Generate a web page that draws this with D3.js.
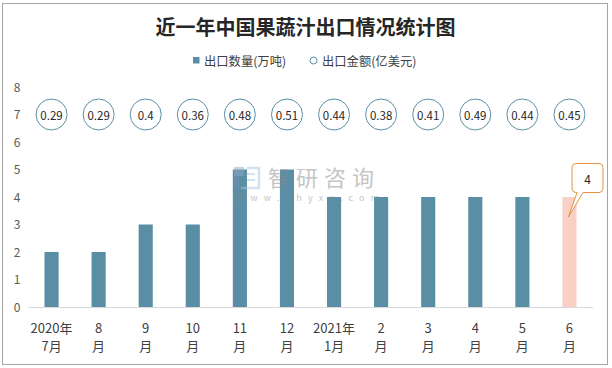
<!DOCTYPE html>
<html><head><meta charset="utf-8">
<script src="https://cdn.jsdelivr.net/npm/d3@7"></script>
<style>body{margin:0;background:#fff}svg{display:block}</style>
</head><body>
<svg id="c" width="612" height="368"></svg>
<script>
const title = "近一年中国果蔬汁出口情况统计图";
const categories = ["2020年|7月","8|月","9|月","10|月","11|月","12|月","2021年|1月","2|月","3|月","4|月","5|月","6|月"];
const volume = [2,2,3,3,5,5,4,4,4,4,4,4];
const amount = [0.29,0.29,0.4,0.36,0.48,0.51,0.44,0.38,0.41,0.49,0.44,0.45];
const yTicks = [0,1,2,3,4,5,6,7,8];
const legendLabels = ["出口数量(万吨)","出口金额(亿美元)"];
const bubbleLevel = 7;
const calloutValue = 4;

const font = "'Noto Sans CJK SC','Noto Sans',sans-serif";
const svg = d3.select("#c");
svg.append("rect").attr("x",2.5).attr("y",3.5).attr("width",605).attr("height",361)
  .attr("fill","#fff").attr("stroke","#a6a6a6").attr("stroke-width",1);

svg.append("text").attr("x",305.5).attr("y",26).attr("text-anchor","middle")
  .attr("dominant-baseline","central").attr("font-family",font).attr("font-weight","bold")
  .attr("font-size",20).attr("fill","#262626").text(title);

// legend
svg.append("rect").attr("x",193).attr("y",57).attr("width",6.5).attr("height",6.5).attr("fill","#5a8ea5");
svg.append("text").attr("x",204).attr("y",60.5).attr("dominant-baseline","central")
  .attr("font-family",font).attr("font-size",12.3).attr("fill","#404040").text(legendLabels[0]);
svg.append("circle").attr("cx",313.5).attr("cy",60.5).attr("r",3.5).attr("fill","#fff")
  .attr("stroke","#5a8ea5").attr("stroke-width",1);
svg.append("text").attr("x",322).attr("y",60.5).attr("dominant-baseline","central")
  .attr("font-family",font).attr("font-size",12.3).attr("fill","#404040").text(legendLabels[1]);

const x = d3.scaleBand().domain(categories).range([28,593]).paddingInner(0.7).paddingOuter(0.35);
const y = d3.scaleLinear().domain([0,8]).range([307,87]);

// y axis labels
const yAxis = d3.axisLeft(y).tickValues(yTicks).tickSize(0).tickPadding(0);
const ga = svg.append("g").attr("transform","translate(17,0)").call(yAxis);
ga.select(".domain").remove();
ga.selectAll("text").attr("font-family",font).attr("font-size",12).attr("fill","#595959")
  .attr("text-anchor","middle").attr("dy","0.35em");

// bars
svg.append("g").selectAll("rect").data(volume).join("rect")
  .attr("x",(d,i)=>x(categories[i])).attr("width",x.bandwidth())
  .attr("y",d=>y(d)).attr("height",d=>y(0)-y(d))
  .attr("fill",(d,i)=>i===volume.length-1?"#f8d0c6":"#5a8ea5");

// watermark (drawn semi-transparent over bars)
const wm = svg.append("g").attr("opacity",0.5);
wm.append("rect").attr("x",234).attr("y",167).attr("width",10).attr("height",9).attr("fill","#8fa9c4");
wm.append("rect").attr("x",234).attr("y",176).attr("width",5).attr("height",13).attr("fill","#6f8fb0");
wm.append("path").attr("d","M247,168 H259 V188 H241").attr("fill","none").attr("stroke","#a9c6e0").attr("stroke-width",2.5);
wm.append("path").attr("d","M247,174 H255 M247,180 H255").attr("fill","none").attr("stroke","#a9c6e0").attr("stroke-width",2);
wm.append("text").attr("x",268).attr("y",176).attr("dominant-baseline","central")
  .attr("font-family",font).attr("font-size",22).attr("fill","#8c8c8c").attr("letter-spacing",6).text("智研咨询");
wm.append("text").attr("x",237).attr("y",197).attr("dominant-baseline","central")
  .attr("font-family",font).attr("font-size",9).attr("fill","#8c8c8c").attr("letter-spacing",6.2).text("www.chyxx.com");

// baseline
svg.append("line").attr("x1",28).attr("x2",593).attr("y1",307.5).attr("y2",307.5)
  .attr("stroke","#d9d9d9").attr("stroke-width",1);

// bubbles
const gb = svg.append("g");
amount.forEach((v,i)=>{
  const cx = x(categories[i]) + x.bandwidth()/2;
  gb.append("circle").attr("cx",cx).attr("cy",y(bubbleLevel)).attr("r",15.5)
    .attr("fill","#fff").attr("stroke","#5a8ea5").attr("stroke-width",1);
  gb.append("text").attr("x",cx).attr("y",y(bubbleLevel)).attr("text-anchor","middle")
    .attr("dominant-baseline","central").attr("font-family",font).attr("font-size",11.5)
    .attr("fill","#262626").text(v);
});

// x labels
const gx = svg.append("g");
categories.forEach(c=>{
  const cx = x(c) + x.bandwidth()/2;
  const parts = c.split("|");
  parts.forEach((p,j)=>{
    gx.append("text").attr("x",cx).attr("y",327+j*18.5).attr("text-anchor","middle")
      .attr("dominant-baseline","central").attr("font-family",font).attr("font-size",13)
      .attr("fill","#404040").text(p);
  });
});

// callout
const last = categories.length-1;
const tipX = x(categories[last]) + x.bandwidth()/2 - 1;
const tipY = y(volume[last]) + 20;
const bx = 572, by = 163.5, bw = 31, bh = 29, r = 4;
const p = d3.path();
p.moveTo(bx+r,by); p.lineTo(bx+bw-r,by); p.quadraticCurveTo(bx+bw,by,bx+bw,by+r);
p.lineTo(bx+bw,by+bh-r); p.quadraticCurveTo(bx+bw,by+bh,bx+bw-r,by+bh);
p.lineTo(583,by+bh); p.lineTo(tipX,tipY); p.lineTo(577,by+bh);
p.lineTo(bx+r,by+bh); p.quadraticCurveTo(bx,by+bh,bx,by+bh-r);
p.lineTo(bx,by+r); p.quadraticCurveTo(bx,by,bx+r,by); p.closePath();
svg.append("path").attr("d",p.toString()).attr("fill","#fff").attr("stroke","#e5913f").attr("stroke-width",1);
svg.append("text").attr("x",bx+bw/2).attr("y",by+bh/2).attr("text-anchor","middle")
  .attr("dominant-baseline","central").attr("font-family",font).attr("font-size",12)
  .attr("fill","#262626").text(calloutValue);
</script>
</body></html>
